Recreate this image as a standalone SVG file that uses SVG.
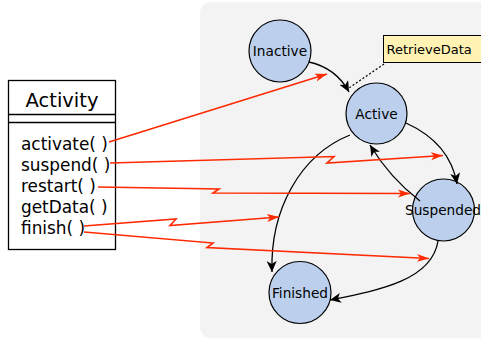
<svg xmlns="http://www.w3.org/2000/svg" width="481" height="340" viewBox="0 0 481 340">
<style>
text{font-family:"DejaVu Sans",Verdana,sans-serif;fill:#000}
.st{fill:#bcd0ee;stroke:#000;stroke-width:1.2}
.lbl{font-size:13.7px;text-anchor:middle}
.meth{font-size:16.9px}
.red{fill:none;stroke:#ff2a00;stroke-width:1.6;marker-end:url(#ra)}
.blk{fill:none;stroke:#000;stroke-width:1.3;marker-end:url(#ba)}
</style>
<defs>
<marker id="ra" markerUnits="userSpaceOnUse" markerWidth="14" markerHeight="10" refX="12" refY="4" orient="auto" viewBox="0 0 14 8">
<path d="M0,0 L12,4 L0,8 L3,4 Z" fill="#ff2a00"/>
</marker>
<marker id="ba" markerUnits="userSpaceOnUse" markerWidth="12" markerHeight="10" refX="11" refY="5" orient="auto" viewBox="0 0 12 10">
<path d="M0,0 L11,5 L0,10 L3,5 Z" fill="#000"/>
</marker>
</defs>
<rect x="200" y="2" width="290" height="336" rx="11" fill="#f3f3f3"/>
<g id="activity">
<rect x="8.5" y="80.5" width="107" height="169" fill="#fff" stroke="#000" stroke-width="1.3"/>
<line x1="8.5" y1="114.5" x2="115.5" y2="114.5" stroke="#000" stroke-width="1.3"/>
<line x1="8.5" y1="122.5" x2="115.5" y2="122.5" stroke="#000" stroke-width="1.3"/>
<text x="62" y="107" font-size="19.5" text-anchor="middle">Activity</text>
<text class="meth" x="21" y="150">activate( )</text>
<text class="meth" x="21" y="171">suspend( )</text>
<text class="meth" x="21" y="192">restart( )</text>
<text class="meth" x="21" y="213">getData( )</text>
<text class="meth" x="21" y="234">finish( )</text>
</g>
<g id="inactive"><circle class="st" cx="280" cy="51" r="31"/><text class="lbl" x="280" y="56">Inactive</text></g>
<g id="active"><circle class="st" cx="376.5" cy="113.5" r="30.5"/><text class="lbl" x="376.5" y="118.5">Active</text></g>
<g id="suspended"><circle class="st" cx="443.5" cy="210" r="31"/><text class="lbl" x="443" y="215">Suspended</text></g>
<g id="finished"><circle class="st" cx="300" cy="292.5" r="31"/><text class="lbl" x="300" y="297.5">Finished</text></g>
<g id="note"><rect x="383.5" y="35.5" width="98" height="27" fill="#fff2b3" stroke="#000" stroke-width="1"/><text x="386.5" y="54" font-size="13">RetrieveData</text></g>
<g id="connectors">
<path class="blk" d="M309,62 Q336,68 349,92"/>
<path d="M384,64 L349,88" fill="none" stroke="#000" stroke-width="1.2" stroke-dasharray="2,2"/>
<path class="blk" d="M406,123 Q450,143 457,184"/>
<path class="blk" d="M420,201 Q390,178 370,145"/>
<path class="blk" d="M350,135 C300,155 270,210 272,272"/>
<path class="blk" d="M438,241 C432,280 380,290 330,300"/>
<path class="red" d="M109,142 L327,74"/>
<path class="red" d="M110,163 L334,156.5 L327,163 L443,155.5"/>
<path class="red" d="M98,187 L219,189 L213,193 L410,193.5"/>
<path class="red" d="M84,226 L176,219 L170,225.5 L279,217"/>
<path class="red" d="M84,232 L213,243 L207,247.5 L429,258.5"/>
</g>
</svg>
